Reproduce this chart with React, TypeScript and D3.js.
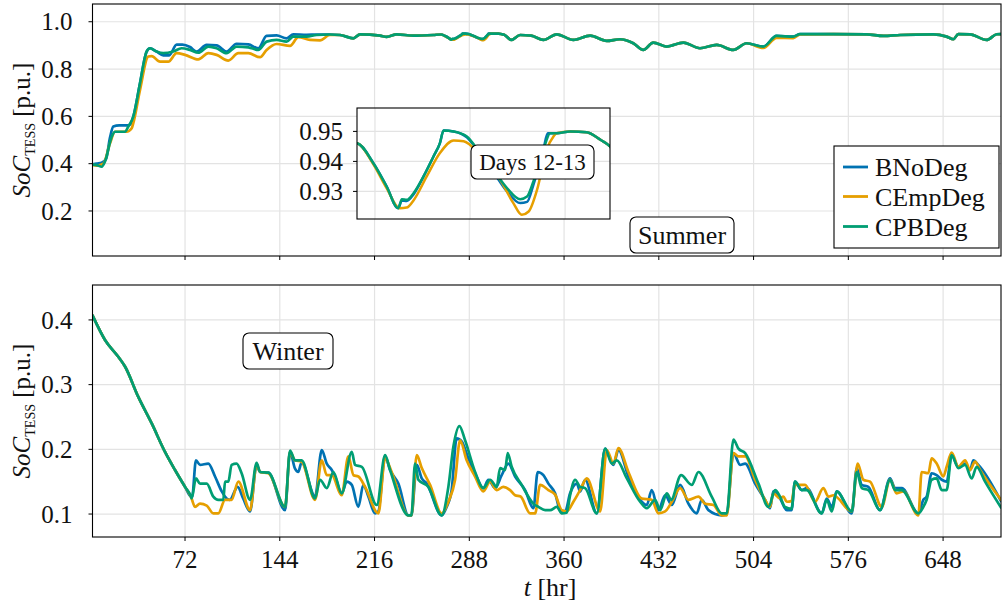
import React from "react";
import * as d3 from "d3";

type P = [number, number];

// ---------- categories / ticks ----------
const xTicks = [72, 144, 216, 288, 360, 432, 504, 576, 648];
const summerYTicks = [0.2, 0.4, 0.6, 0.8, 1.0];
const winterYTicks = [0.1, 0.2, 0.3, 0.4];
const insetYTicks = [0.93, 0.94, 0.95];
const insetXGrid = [270, 288, 306];
const seriesNames = ["BNoDeg", "CEmpDeg", "CPBDeg"];
const seriesColors = ["#0072B2", "#E69F00", "#009E73"];

// ---------- Summer data (t [hr], SoC [p.u.]) ----------
const summerBlueEarly: P[] = [
  [1.7, 0.397], [5, 0.4], [9, 0.405], [12, 0.42], [15, 0.51], [17.5, 0.557], [22, 0.562], [28, 0.562],
  [30.2, 0.565], [32.7, 0.599], [37.8, 0.74], [42.8, 0.874], [45.4, 0.888], [50.4, 0.874], [55.5, 0.858],
  [60, 0.858], [65.6, 0.903], [70, 0.903], [75.8, 0.893], [80.8, 0.874], [88.4, 0.902], [96, 0.9],
  [103.6, 0.874], [111.2, 0.907], [120.1, 0.904], [127.7, 0.888], [134, 0.94], [141.6, 0.942],
  [149.2, 0.93], [154.3, 0.947], [164.4, 0.945], [172, 0.946], [182, 0.946],
];
const summerOrangeEarly: P[] = [
  [1.7, 0.395], [5, 0.392], [10, 0.4], [15, 0.486], [18.8, 0.535], [27.6, 0.535], [31.5, 0.55],
  [32.7, 0.571], [37.8, 0.712], [44.1, 0.853], [46.6, 0.855], [53, 0.831], [59.3, 0.831], [65.6, 0.867],
  [72, 0.86], [82.1, 0.841], [89.7, 0.867], [96, 0.86], [104.9, 0.836], [112.5, 0.867], [120.1, 0.867],
  [129, 0.85], [134, 0.881], [141.6, 0.906], [151.8, 0.898], [158.1, 0.935], [167, 0.923],
  [174.6, 0.921], [182, 0.944],
];
const summerGreenEarly: P[] = [
  [1.7, 0.396], [5, 0.394], [8.7, 0.387], [11.2, 0.409], [16.3, 0.514], [18.8, 0.535], [26.4, 0.535],
  [28.9, 0.557], [32.7, 0.599], [37.8, 0.74], [42.8, 0.874], [45.4, 0.888], [50.4, 0.874], [55.5, 0.867],
  [63.1, 0.874], [69.4, 0.888], [75.8, 0.881], [82.1, 0.869], [89.7, 0.895], [96, 0.888], [103.6, 0.867],
  [111.2, 0.895], [120.1, 0.892], [127.7, 0.881], [134, 0.916], [141.6, 0.923], [149.2, 0.916],
  [154.3, 0.937], [164.4, 0.937], [172, 0.944], [182, 0.946],
];
const summerCommonA: P[] = [
  [189.8, 0.944], [199.9, 0.93], [205, 0.947], [220.2, 0.941], [225.3, 0.936], [232.9, 0.947],
  [245.5, 0.941], [260.7, 0.944],
];
const summerBlueDays: P[] = [
  [266.5, 0.9461], [269.7, 0.9394], [272.2, 0.9317], [274.4, 0.9244], [275.1, 0.927], [276, 0.9268],
  [277.3, 0.929], [279.2, 0.935], [281.1, 0.9417], [282.3, 0.9461], [283, 0.9503], [284.9, 0.95],
  [287.4, 0.948], [289.9, 0.9425], [292.4, 0.9365], [295, 0.93], [297.5, 0.9261], [298.8, 0.9265],
  [300, 0.9322], [301.9, 0.944], [302.7, 0.9494], [304.4, 0.9494], [307, 0.95], [310.1, 0.9497],
  [312.7, 0.9472], [314.5, 0.945],
];
const summerOrangeDays: P[] = [
  [266.5, 0.9461], [269.7, 0.939], [272.2, 0.9311], [274.7, 0.9244], [276, 0.9246], [277.3, 0.927],
  [279.8, 0.935], [282.3, 0.9428], [284.9, 0.947], [286.8, 0.9467], [289.9, 0.9422], [293.7, 0.9339],
  [296.2, 0.9261], [297.8, 0.9222], [299.1, 0.9233], [300.7, 0.9306], [302.5, 0.9439], [303.8, 0.9483],
  [304.4, 0.9494], [307, 0.95], [310.1, 0.9497], [312.7, 0.9472], [314.5, 0.945],
];
const summerGreenDays: P[] = [
  [266.5, 0.9461], [269.7, 0.9394], [272.2, 0.9317], [274.4, 0.9244], [275.1, 0.9274], [276, 0.9272],
  [277.3, 0.9294], [279.2, 0.935], [281.1, 0.9417], [282.3, 0.9461], [283, 0.9503], [284.9, 0.95],
  [287.4, 0.9483], [289.9, 0.9428], [292.4, 0.9372], [295, 0.9311], [297.5, 0.9274], [298.8, 0.9283],
  [300, 0.9333], [301.9, 0.9439], [303.2, 0.9494], [304.4, 0.9494], [307, 0.95], [310.1, 0.9497],
  [312.7, 0.9472], [314.5, 0.945],
];
const summerCommonB: P[] = [
  [320, 0.923], [326.6, 0.944], [335, 0.941], [344.3, 0.923], [354.4, 0.947], [367.1, 0.923],
  [379.8, 0.941], [392.4, 0.919], [402.5, 0.926], [412.6, 0.909], [420.2, 0.881], [427.8, 0.912],
  [437.9, 0.895], [450.6, 0.912], [463.3, 0.888], [476, 0.902], [488.6, 0.881], [498.7, 0.909],
  [511.4, 0.895], [521.5, 0.94], [534.2, 0.937], [539.3, 0.948], [564.6, 0.948], [590, 0.947],
  [602.6, 0.94], [615.3, 0.944], [640.6, 0.947], [650.7, 0.937], [655.8, 0.926], [659.6, 0.948],
  [668.5, 0.947], [681.1, 0.923], [688.7, 0.947], [692, 0.948],
];
const summerOrangeStep: P[] = [
  [511.4, 0.889], [521.5, 0.932], [534.2, 0.931], [539.3, 0.946],
];

// ---------- Winter data ----------
const winterDescent: P[] = [
  [1.7, 0.407], [11.2, 0.369], [21.3, 0.343], [26.4, 0.328], [36.5, 0.281], [46.7, 0.24],
  [56.8, 0.196], [64.4, 0.168], [72, 0.142], [76.5, 0.127],
];
const winterBlueRest: P[] = [
  [77.5, 0.128], [80.3, 0.183], [83.4, 0.176], [89.7, 0.178], [94.8, 0.158], [99.9, 0.135],
  [103.6, 0.124], [106, 0.122], [112, 0.142], [116, 0.125], [121.4, 0.104], [126.4, 0.176], [129, 0.165],
  [135.3, 0.164], [148, 0.106], [151.8, 0.196], [155.6, 0.17], [158, 0.165], [160.6, 0.18], [170.8, 0.127],
  [175.9, 0.199], [179.7, 0.178], [183.5, 0.168], [186, 0.158], [191, 0.132], [194.9, 0.15],
  [198.7, 0.145], [203.7, 0.111], [207.5, 0.145], [211.3, 0.127], [216.4, 0.101], [218.9, 0.104],
  [224, 0.189], [227.8, 0.168], [234.1, 0.147], [241.7, 0.098], [244, 0.098], [248.1, 0.176],
  [251.9, 0.155], [255.7, 0.147], [267, 0.098], [270.8, 0.111], [274.6, 0.137], [278.4, 0.217],
  [282.3, 0.212], [287.3, 0.186], [292.4, 0.163], [298.7, 0.14], [302.5, 0.153], [307.6, 0.14],
  [312.6, 0.16], [317.7, 0.178], [322.8, 0.158], [330.4, 0.137], [336.7, 0.109], [340, 0.165],
  [344.3, 0.16], [348.1, 0.147], [353.2, 0.132], [357, 0.106], [360.8, 0.104], [364.6, 0.132],
  [369.7, 0.147], [372.2, 0.135], [376, 0.153], [384.9, 0.101], [391.2, 0.201], [397.5, 0.176],
  [401.3, 0.199], [408.9, 0.158], [417.8, 0.122], [422.9, 0.114], [426.6, 0.137], [431.7, 0.106],
  [436.8, 0.129], [441.9, 0.114], [448.2, 0.145], [454.5, 0.116], [460.8, 0.101], [464.6, 0.122],
  [469.7, 0.106], [479.8, 0.098], [483.6, 0.1], [488.7, 0.194], [493.8, 0.176], [497.6, 0.178],
  [505.2, 0.147], [512.7, 0.122], [516.5, 0.109], [519, 0.135], [524.1, 0.124], [529.2, 0.106],
  [532.8, 0.106], [535.5, 0.15], [540.6, 0.137], [544.4, 0.14], [555.8, 0.101], [559.6, 0.124],
  [563.4, 0.111], [567.2, 0.135], [578.6, 0.101], [582.4, 0.171], [586.2, 0.145], [591.2, 0.142],
  [600.1, 0.106], [607.7, 0.155], [611.5, 0.14], [616.6, 0.14], [629.2, 0.101], [633, 0.122],
  [635.5, 0.127], [639.3, 0.163], [643.1, 0.16], [647, 0.153], [650.7, 0.15], [654.5, 0.191],
  [659.6, 0.173], [664.7, 0.178], [668.5, 0.168], [671, 0.183], [674.8, 0.176], [692, 0.12],
];
const winterOrangeRest: P[] = [
  [79.6, 0.111], [83.4, 0.116], [88.5, 0.113], [93.5, 0.101], [97.3, 0.101], [102.4, 0.122],
  [107.4, 0.122], [112.5, 0.15], [121.4, 0.106], [126.4, 0.176], [129, 0.165], [135.3, 0.163],
  [148, 0.111], [151.8, 0.196], [155.6, 0.183], [160.6, 0.181], [170.8, 0.122], [175.9, 0.183],
  [179.7, 0.16], [183.5, 0.16], [191, 0.129], [196.1, 0.189], [200, 0.16], [203.7, 0.158],
  [208.8, 0.142], [218.9, 0.101], [224, 0.186], [229, 0.165], [241.7, 0.098], [244, 0.098],
  [248.1, 0.191], [251.9, 0.171], [258.2, 0.145], [267, 0.101], [272.1, 0.119], [277.2, 0.153],
  [281, 0.214], [286, 0.183], [292.4, 0.158], [298.7, 0.135], [303.8, 0.15], [308.8, 0.137],
  [313.9, 0.142], [319, 0.137], [322.8, 0.129], [327, 0.127], [334.2, 0.101], [338, 0.101],
  [341.8, 0.145], [348.1, 0.137], [353.2, 0.13], [358.3, 0.106], [362, 0.104], [367.1, 0.119],
  [372.2, 0.137], [377.3, 0.155], [387.4, 0.104], [392.5, 0.199], [397.5, 0.178], [401.3, 0.202],
  [408.9, 0.165], [419, 0.124], [426.6, 0.122], [431.7, 0.101], [436.8, 0.104], [441.9, 0.119],
  [448.2, 0.14], [454.5, 0.122], [462.1, 0.127], [467.2, 0.116], [473.5, 0.114], [479.8, 0.098],
  [483.6, 0.098], [488.7, 0.194], [492.5, 0.189], [497.6, 0.189], [505.2, 0.153], [512.7, 0.122],
  [516.5, 0.111], [519, 0.132], [524.1, 0.124], [526.6, 0.127], [529.2, 0.119], [532.8, 0.12],
  [535.5, 0.145], [543.1, 0.145], [550.7, 0.119], [557, 0.14], [560.8, 0.127], [564.6, 0.129],
  [578.6, 0.104], [583.1, 0.178], [587.4, 0.153], [592.5, 0.15], [601.4, 0.111], [607.7, 0.153],
  [612.7, 0.132], [617.8, 0.135], [629.2, 0.098], [631.7, 0.165], [636.8, 0.163], [639.3, 0.186],
  [643.1, 0.178], [648.2, 0.158], [650.7, 0.173], [654.5, 0.195], [659.6, 0.173], [664.7, 0.183],
  [668.5, 0.168], [672.3, 0.181], [676.1, 0.168], [692, 0.122],
];
const winterGreenRest: P[] = [
  [77, 0.124], [80.3, 0.155], [83.4, 0.147], [88.5, 0.147], [93.5, 0.127], [97.3, 0.122],
  [101.1, 0.122], [102.4, 0.15], [104.9, 0.15], [107.4, 0.176], [111.2, 0.178], [115, 0.163],
  [121.4, 0.122], [126.4, 0.179], [129, 0.165], [135.3, 0.164], [148, 0.111], [151.8, 0.198],
  [155.6, 0.183], [160.6, 0.183], [170.8, 0.124], [174.6, 0.153], [179.7, 0.14], [184.7, 0.165],
  [191, 0.132], [198.7, 0.196], [201.2, 0.176], [206.3, 0.173], [217.7, 0.114], [224, 0.191],
  [227.8, 0.168], [241.7, 0.098], [244, 0.098], [246.8, 0.178], [249.3, 0.153], [256.9, 0.142],
  [267, 0.098], [272.1, 0.142], [275.9, 0.204], [280.5, 0.236], [284.8, 0.214], [292.4, 0.165],
  [298.7, 0.14], [303.8, 0.153], [308.8, 0.142], [311.4, 0.171], [315.2, 0.168], [317.2, 0.194],
  [320.2, 0.173], [327.8, 0.145], [336.7, 0.116], [340.5, 0.111], [345.6, 0.106], [349.4, 0.106],
  [354.5, 0.111], [358.3, 0.101], [362, 0.102], [364.6, 0.129], [368.4, 0.153], [372.2, 0.142],
  [376, 0.14], [384.9, 0.101], [391.2, 0.201], [396.3, 0.178], [400.1, 0.183], [407.7, 0.155],
  [417.8, 0.119], [422.9, 0.109], [429.2, 0.122], [433, 0.106], [438.1, 0.132], [441.3, 0.122],
  [448.9, 0.16], [457, 0.145], [462.1, 0.165], [472.2, 0.127], [479.8, 0.101], [483.6, 0.101],
  [488.7, 0.215], [492.5, 0.201], [497.6, 0.194], [507.7, 0.147], [515.3, 0.111], [520.4, 0.137],
  [524.1, 0.127], [527.9, 0.111], [532.8, 0.108], [535.5, 0.15], [540.6, 0.137], [544.4, 0.137],
  [555.8, 0.101], [559.6, 0.122], [563.4, 0.104], [567.2, 0.135], [578.6, 0.104], [582.4, 0.165],
  [586.2, 0.14], [591.2, 0.137], [600.1, 0.106], [607.7, 0.153], [611.5, 0.137], [616.6, 0.137],
  [629.2, 0.101], [633, 0.111], [635.5, 0.122], [639.3, 0.153], [643.1, 0.155], [647, 0.137],
  [650.7, 0.137], [654.5, 0.191], [659.6, 0.171], [664.7, 0.176], [669.7, 0.155], [673.5, 0.173],
  [679.9, 0.15], [692, 0.11],
];

// ---------- assembled series ----------
const byT = (a: P, b: P) => a[0] - b[0];
const summerSeries: P[][] = [
  [...summerBlueEarly, ...summerCommonA, ...summerBlueDays, ...summerCommonB],
  [
    ...summerOrangeEarly, ...summerCommonA, ...summerOrangeDays,
    ...summerCommonB.filter((p) => p[0] < 505 || p[0] > 540), ...summerOrangeStep,
  ].sort(byT),
  [...summerGreenEarly, ...summerCommonA, ...summerGreenDays, ...summerCommonB],
];
const winterSeries: P[][] = [
  [...winterDescent, ...winterBlueRest],
  [...winterDescent, ...winterOrangeRest],
  [...winterDescent, ...winterGreenRest],
];

// ---------- layout ----------
const W = 1002;
const H = 605;
const L = 92.5;
const R = 1001;
const FONT = "Liberation Serif";
const GRID = "#e3e3e3";
const TXT: React.CSSProperties = { fontFamily: '"Liberation Serif", "DejaVu Serif", serif' };

const x = d3.scaleLinear().domain([1.7, 692]).range([L, R]);
const ySummer = d3.scaleLinear().domain([0.0097, 1.075]).range([256, 4]);
const yWinter = d3.scaleLinear().domain([0.0645, 0.454]).range([537, 285]);
const xInset = d3.scaleLinear().domain([266.6, 314.5]).range([357, 610]);
const yInset = d3.scaleLinear().domain([0.9208, 0.9578]).range([219, 108]);

function Panel({ y, yTicks, series, id, fmt, showXLabels }: {
  y: d3.ScaleLinear<number, number>; yTicks: number[]; series: P[][]; id: string;
  fmt: (v: number) => string; showXLabels: boolean;
}) {
  const [y0, y1] = y.range() as [number, number];
  const top = Math.min(y0, y1);
  const bottom = Math.max(y0, y1);
  const line = d3.line<P>().x((d) => x(d[0])).y((d) => y(d[1])).curve(d3.curveMonotoneX);
  return (
    <g>
      <defs>
        <clipPath id={id}>
          <rect x={L} y={top} width={R - L} height={bottom - top} />
        </clipPath>
      </defs>
      {xTicks.map((t) => (
        <line key={"gx" + t} x1={x(t)} x2={x(t)} y1={top} y2={bottom} stroke={GRID} strokeWidth={1.2} />
      ))}
      {yTicks.map((v) => (
        <line key={"gy" + v} x1={L} x2={R} y1={y(v)} y2={y(v)} stroke={GRID} strokeWidth={1.2} />
      ))}
      <g clipPath={`url(#${id})`}>
        {series.map((s, i) => (
          <path key={i} d={line(s) || ""} fill="none" stroke={seriesColors[i]} strokeWidth={2.7}
            strokeLinejoin="round" strokeLinecap="round" />
        ))}
      </g>
      <rect x={L} y={top} width={R - L} height={bottom - top} fill="none" stroke="#000" strokeWidth={1.1} />
      {xTicks.map((t) => (
        <line key={"tx" + t} x1={x(t)} x2={x(t)} y1={bottom} y2={bottom + 4} stroke="#000" strokeWidth={1} />
      ))}
      {yTicks.map((v) => (
        <g key={"ty" + v}>
          <line x1={L - 4} x2={L} y1={y(v)} y2={y(v)} stroke="#000" strokeWidth={1} />
          <text x={L - 20} y={y(v)} dy="0.35em" textAnchor="end" fontSize={25} fontFamily={FONT} style={TXT} fill="#111">
            {fmt(v)}
          </text>
        </g>
      ))}
      {showXLabels &&
        xTicks.map((t) => (
          <text key={"lx" + t} x={x(t)} y={568} textAnchor="middle" fontSize={25} fontFamily={FONT} style={TXT} fill="#111">
            {t}
          </text>
        ))}
    </g>
  );
}

function YLabel({ cx, cy }: { cx: number; cy: number }) {
  return (
    <text transform={`translate(${cx},${cy}) rotate(-90)`} textAnchor="middle" fontSize={25} fontFamily={FONT} style={TXT} fill="#111">
      <tspan fontStyle="italic">SoC</tspan>
      <tspan fontSize={14} dy={5}>TESS</tspan>
      <tspan dy={-5}>{"\u00a0[p.u.]"}</tspan>
    </text>
  );
}

function Inset() {
  const line = d3.line<P>().x((d) => xInset(d[0])).y((d) => yInset(d[1])).curve(d3.curveMonotoneX);
  const [xa, xb] = xInset.range();
  const [yb, ya] = yInset.range();
  return (
    <g>
      <defs>
        <clipPath id="insetClip">
          <rect x={xa} y={ya} width={xb - xa} height={yb - ya} />
        </clipPath>
      </defs>
      <rect x={xa} y={ya} width={xb - xa} height={yb - ya} fill="#fff" />
      {insetXGrid.map((t) => (
        <line key={"igx" + t} x1={xInset(t)} x2={xInset(t)} y1={ya} y2={yb} stroke={GRID} strokeWidth={1.2} />
      ))}
      {insetYTicks.map((v) => (
        <line key={"igy" + v} x1={xa} x2={xb} y1={yInset(v)} y2={yInset(v)} stroke={GRID} strokeWidth={1.2} />
      ))}
      <g clipPath="url(#insetClip)">
        {summerSeries.map((s, i) => (
          <path key={i} d={line(s) || ""} fill="none" stroke={seriesColors[i]} strokeWidth={2.5}
            strokeLinejoin="round" strokeLinecap="round" />
        ))}
      </g>
      <rect x={xa} y={ya} width={xb - xa} height={yb - ya} fill="none" stroke="#000" strokeWidth={1.1} />
      {insetYTicks.map((v) => (
        <g key={"ity" + v}>
          <line x1={xa - 4} x2={xa} y1={yInset(v)} y2={yInset(v)} stroke="#000" strokeWidth={1} />
          <text x={xa - 14} y={yInset(v)} dy="0.35em" textAnchor="end" fontSize={25} fontFamily={FONT} style={TXT} fill="#111">
            {v.toFixed(2)}
          </text>
        </g>
      ))}
      <rect x={471} y={145} width={123} height={34} rx={6} fill="#fff" stroke="#000" strokeWidth={1.1} />
      <text x={532.5} y={162} dy="0.35em" textAnchor="middle" fontSize={23} fontFamily={FONT} style={TXT} fill="#111">
        Days 12-13
      </text>
    </g>
  );
}

function Legend() {
  const rows = [167, 196.5, 226.5];
  return (
    <g>
      <rect x={834} y={146} width={165} height={102} fill="#fff" stroke="#000" strokeWidth={1.1} />
      {seriesNames.map((n, i) => (
        <g key={n}>
          <line x1={843} x2={868} y1={rows[i]} y2={rows[i]} stroke={seriesColors[i]} strokeWidth={2.8} />
          <text x={875} y={rows[i]} dy="0.35em" fontSize={26} fontFamily={FONT} style={TXT} fill="#111">
            {n}
          </text>
        </g>
      ))}
    </g>
  );
}

function Tag({ x0, y0, w, h, label }: { x0: number; y0: number; w: number; h: number; label: string }) {
  return (
    <g>
      <rect x={x0} y={y0} width={w} height={h} rx={6} fill="#fff" stroke="#000" strokeWidth={1.1} />
      <text x={x0 + w / 2} y={y0 + h / 2} dy="0.35em" textAnchor="middle" fontSize={26} fontFamily={FONT} style={TXT} fill="#111">
        {label}
      </text>
    </g>
  );
}

export default function App() {
  return (
    <svg width={W} height={H} viewBox={`0 0 ${W} ${H}`}
      style={{ position: "absolute", left: 0, top: 0, display: "block", background: "#fff" }}>
      <rect x={0} y={0} width={W} height={H} fill="#fff" />
      <Panel y={ySummer} yTicks={summerYTicks} series={summerSeries} id="clipSummer"
        fmt={(v) => v.toFixed(1)} showXLabels={false} />
      <Panel y={yWinter} yTicks={winterYTicks} series={winterSeries} id="clipWinter"
        fmt={(v) => v.toFixed(1)} showXLabels={true} />
      <Inset />
      <Legend />
      <Tag x0={630} y0={217} w={104} h={36} label="Summer" />
      <Tag x0={243} y0={333} w={90} h={36} label="Winter" />
      <YLabel cx={30} cy={130} />
      <YLabel cx={30} cy={411} />
      <text x={550} y={596} textAnchor="middle" fontSize={26} fontFamily={FONT} style={TXT} fill="#111">
        <tspan fontStyle="italic">t</tspan>
        <tspan>{"\u00a0[hr]"}</tspan>
      </text>
    </svg>
  );
}
